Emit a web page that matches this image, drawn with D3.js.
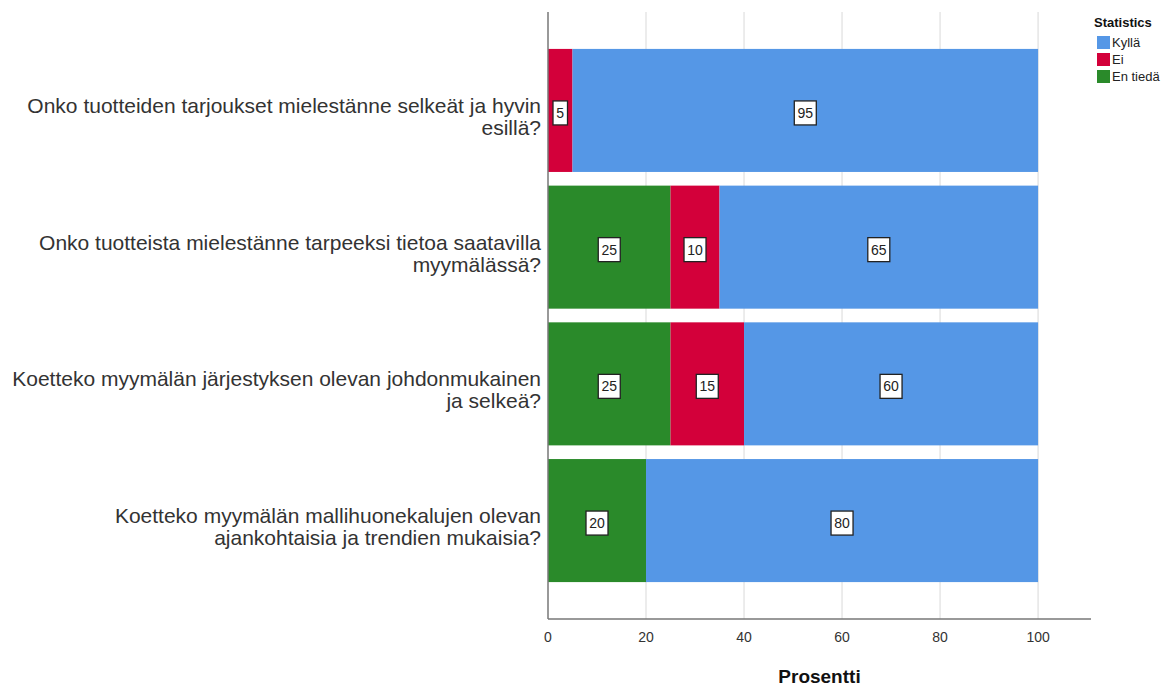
<!DOCTYPE html>
<html>
<head>
<meta charset="utf-8">
<script src="https://cdn.jsdelivr.net/npm/d3@7"></script>
<style>
  body { margin: 0; background: #fff; }
  svg { font-family: "Liberation Sans", Arial, sans-serif; }
</style>
</head>
<body>
<div id="chart"></div>
<script>
const questions = [
    ["Onko tuotteiden tarjoukset mielestänne selkeät ja hyvin", "esillä?"],
    ["Onko tuotteista mielestänne tarpeeksi tietoa saatavilla", "myymälässä?"],
    ["Koetteko myymälän järjestyksen olevan johdonmukainen", "ja selkeä?"],
    ["Koetteko myymälän mallihuonekalujen olevan", "ajankohtaisia ja trendien mukaisia?"]
];
const seriesNames = ["Kyllä", "Ei", "En tiedä"];
const kylla = [95, 65, 60, 80];
const ei = [5, 10, 15, 0];
const enTieda = [0, 25, 25, 20];
const xTicks = [0, 20, 40, 60, 80, 100];

const colors = {"Kyllä": "#5597e6", "Ei": "#d3003a", "En tiedä": "#2a8a2a"};

const W = 1171, H = 686;
const svg = d3.select("#chart").append("svg")
    .attr("width", W).attr("height", H);

const plotLeft = 548, plotRight = 1091, plotTop = 12, plotBottom = 619;

const x = d3.scaleLinear().domain([0, 110.8]).range([plotLeft, plotRight]);
const y = d3.scaleBand()
    .domain(d3.range(questions.length))
    .range([plotTop, plotBottom])
    .paddingInner(0.1)
    .paddingOuter(0.27);

const data = questions.map((q, i) => ({
    idx: i,
    "En tiedä": enTieda[i],
    "Ei": ei[i],
    "Kyllä": kylla[i]
}));

// pinoamisjärjestys vasemmalta: vihreä, punainen, sininen
const stack = d3.stack().keys(["En tiedä", "Ei", "Kyllä"]);
const stacked = stack(data);

// gridlines
svg.append("g").selectAll("line")
    .data(xTicks.filter(d => d > 0))
    .enter().append("line")
    .attr("x1", d => x(d)).attr("x2", d => x(d))
    .attr("y1", plotTop).attr("y2", plotBottom)
    .attr("stroke", "#d9d9d9").attr("stroke-width", 1);

// bars
stacked.forEach(layer => {
    svg.append("g").selectAll("rect")
        .data(layer.filter(d => d[1] - d[0] > 0))
        .enter().append("rect")
        .attr("x", d => x(d[0]))
        .attr("width", d => x(d[1]) - x(d[0]))
        .attr("y", d => y(d.data.idx))
        .attr("height", y.bandwidth())
        .attr("fill", colors[layer.key]);
});

// value labels
stacked.forEach(layer => {
    const g = svg.append("g").selectAll("g")
        .data(layer.filter(d => d[1] - d[0] > 0))
        .enter().append("g")
        .attr("transform", d => `translate(${x((d[0] + d[1]) / 2)},${y(d.data.idx) + y.bandwidth() / 2 + 2.5})`);
    g.each(function(d) {
        const txt = String(d[1] - d[0]);
        const w = txt.length * 7.5 + 7;
        const sel = d3.select(this);
        sel.append("rect")
            .attr("x", -w / 2).attr("y", -12)
            .attr("width", w).attr("height", 24)
            .attr("fill", "#fff").attr("stroke", "#222").attr("stroke-width", 1.3);
        sel.append("text")
            .attr("text-anchor", "middle")
            .attr("dy", "0.36em")
            .style("font-size", "14px")
            .attr("fill", "#222")
            .text(txt);
    });
});

// axes
svg.append("line")
    .attr("x1", plotLeft).attr("x2", plotLeft)
    .attr("y1", plotTop).attr("y2", plotBottom)
    .attr("stroke", "#777").attr("stroke-width", 1.5);
svg.append("line")
    .attr("x1", plotLeft).attr("x2", plotRight)
    .attr("y1", plotBottom).attr("y2", plotBottom)
    .attr("stroke", "#777").attr("stroke-width", 1.5);

svg.append("g").selectAll("text")
    .data(xTicks)
    .enter().append("text")
    .attr("x", d => x(d))
    .attr("y", 642)
    .attr("text-anchor", "middle")
    .style("font-size", "14px")
    .attr("fill", "#333")
    .text(d => d);

svg.append("text")
    .attr("x", (plotLeft + plotRight) / 2)
    .attr("y", 683)
    .attr("text-anchor", "middle")
    .style("font-size", "19px")
    .style("font-weight", "bold")
    .attr("fill", "#111")
    .text("Prosentti");

// category labels
const lab = svg.append("g").selectAll("text")
    .data(questions)
    .enter().append("text")
    .attr("text-anchor", "end")
    .style("font-size", "21px")
    .attr("fill", "#333")
    .attr("y", (d, i) => y(i) + y.bandwidth() / 2);
lab.each(function(lines) {
    const t = d3.select(this);
    lines.forEach((line, j) => {
        t.append("tspan")
            .attr("x", 541)
            .attr("dy", j === 0 ? "0.12em" : "1.05em")
            .text(line);
    });
});

// legend
const lg = svg.append("g").attr("transform", "translate(1094,0)");
lg.append("text")
    .attr("x", 0).attr("y", 27)
    .style("font-size", "13px")
    .style("font-weight", "bold")
    .attr("fill", "#111")
    .text("Statistics");
seriesNames.forEach((s, i) => {
    lg.append("rect")
        .attr("x", 3).attr("y", 36 + i * 17)
        .attr("width", 13).attr("height", 13)
        .attr("fill", colors[s]);
    lg.append("text")
        .attr("x", 18).attr("y", 47 + i * 17)
        .style("font-size", "13px")
        .attr("fill", "#222")
        .text(s);
});
</script>
</body>
</html>
